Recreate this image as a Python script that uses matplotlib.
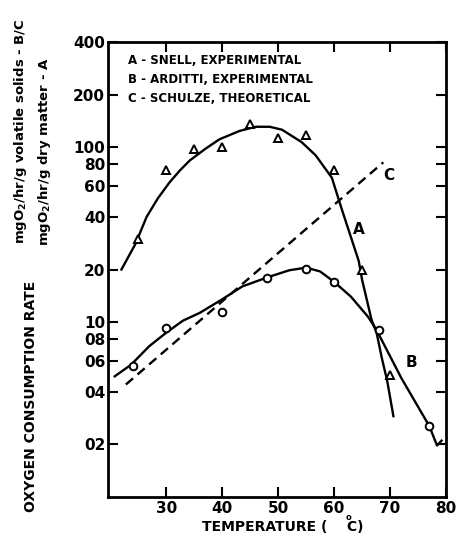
import numpy as np
import matplotlib
matplotlib.use("Agg")
import matplotlib.pyplot as plt
from matplotlib.ticker import FixedLocator, FixedFormatter, NullLocator

# Snell, experimental (triangles) and traced curve A
snell_t = [25, 30, 35, 40, 45, 50, 55, 60, 65, 70]
snell_r = [30, 74, 98, 100, 135, 113, 117, 74, 20, 5]
curve_a_t = [22, 24.5, 26.5, 28.5, 30.6, 32.5, 34.2, 37, 39.5, 43.1, 46, 48.5, 50.7, 54.2,
             56.7, 59.6, 61.3, 64.4, 65, 66.7, 67.6, 68.5, 69.5, 70.6]
curve_a_r = [20, 28, 40, 51, 63, 74, 84, 98, 111, 124, 131, 131, 126, 107,
             90, 67, 45, 22.4, 17.5, 10.3, 8.7, 6.3, 4.6, 2.9]

# Arditti, experimental (circles) and traced curve B
arditti_t = [24, 30, 40, 48, 55, 60, 68, 77]
arditti_r = [5.6, 9.3, 11.5, 18, 20.2, 17, 9.0, 2.55]
curve_b_t = [20.8, 23.7, 27, 30, 33, 36, 40, 43.6, 48, 52, 55, 57.5, 60, 63,
             66.1, 67.6, 72, 77, 78.4, 79.2]
curve_b_r = [4.9, 5.7, 7.3, 8.7, 10.2, 11.3, 13.5, 16, 18, 19.8, 20.5, 19.5, 17, 14,
             10.7, 9.0, 4.8, 2.55, 1.97, 2.1]

# Schulze, theoretical (dashed line C)
schulze_t = [22.8, 68.8]
schulze_r = [4.4, 82]

y_ticks = [2, 4, 6, 8, 10, 20, 40, 60, 80, 100, 200, 400]
y_labels = ["02", "04", "06", "08", "10", "20", "40", "60", "80", "100", "200", "400"]
x_ticks = [30, 40, 50, 60, 70, 80]
x_labels = ["30", "40", "50", "60", "70", "80"]

plt.rcParams['font.family'] = ['DejaVu Sans']
plt.rcParams['font.weight'] = 'bold'

fig = plt.figure(figsize=(4.57, 5.38), dpi=100)
ax = fig.add_axes([108/457, 1-497/538, 338/457, 455/538])

ax.plot(curve_a_t, curve_a_r, color='black', lw=1.7, zorder=2)
ax.plot(curve_b_t, curve_b_r, color='black', lw=1.7, zorder=2)
ax.plot(schulze_t, schulze_r, color='black', lw=1.7, linestyle=(0, (4, 2.5)), zorder=2)
ax.plot(snell_t, snell_r, linestyle='none', marker='^', ms=6, mfc='white',
        mec='black', mew=1.4, zorder=3)
ax.plot(arditti_t, arditti_r, linestyle='none', marker='o', ms=5.5, mfc='white',
        mec='black', mew=1.4, zorder=3)

ax.set_yscale('log')
ax.set_ylim(1, 400)
ax.set_xlim(19.6, 80)
ax.yaxis.set_major_locator(FixedLocator(y_ticks))
ax.yaxis.set_major_formatter(FixedFormatter(y_labels))
ax.yaxis.set_minor_locator(NullLocator())
ax.xaxis.set_major_locator(FixedLocator(x_ticks))
ax.xaxis.set_major_formatter(FixedFormatter(x_labels))
ax.tick_params(direction='in', length=7, width=1.5, labelsize=11,
               top=True, right=True, pad=3)
ax.tick_params(axis='y', pad=2)
for sp in ax.spines.values():
    sp.set_linewidth(2)

ax.text(64.4, 34, "A", fontsize=11, fontweight='bold', ha='center', va='center')
ax.text(73.8, 5.9, "B", fontsize=11, fontweight='bold', ha='center', va='center')
ax.text(69.8, 69, "C", fontsize=11, fontweight='bold', ha='center', va='center')

leg = ["A - SNELL, EXPERIMENTAL", "B - ARDITTI, EXPERIMENTAL", "C - SCHULZE, THEORETICAL"]
for i, s in enumerate(leg):
    ax.text(0.059, 0.960 - i*0.042, s, transform=ax.transAxes, fontsize=8.5,
            fontweight='bold', ha='left', va='center')

fig.text(283/457, 1-527/538, "TEMPERATURE (    C)", fontsize=10, fontweight='bold',
         ha='center', va='center')
fig.text(349/457, 1-517/538, "o", fontsize=6, fontweight='bold', ha='center', va='center')

fig.text(31/457, 1-396/538, "OXYGEN CONSUMPTION RATE", rotation=90, fontsize=10,
         fontweight='bold', ha='center', va='center')
fig.text(45/457, 1-152/538, r"mgO$_\mathbf{2}$/hr/g dry matter - A", rotation=90,
         fontsize=9.5, fontweight='bold', ha='center', va='center')
fig.text(21/457, 1-131/538, r"mgO$_\mathbf{2}$/hr/g volatile solids - B/C", rotation=90,
         fontsize=9.5, fontweight='bold', ha='center', va='center')

fig.savefig("out.png", dpi=100)
